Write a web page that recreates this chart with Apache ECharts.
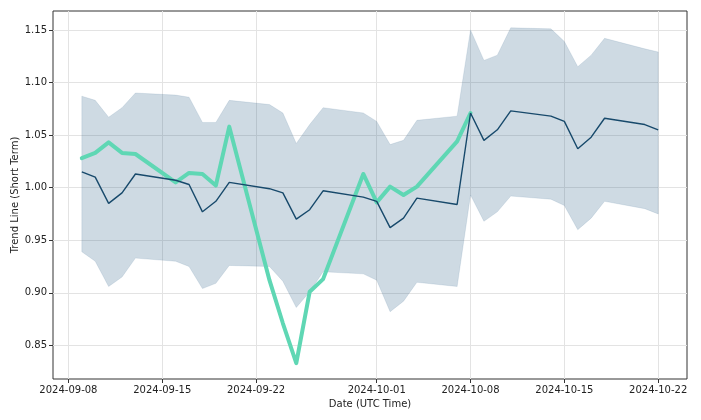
<!DOCTYPE html>
<html>
<head>
<meta charset="utf-8">
<script src="https://cdn.jsdelivr.net/npm/echarts@6/dist/echarts.min.js"></script>
<style>html,body{margin:0;padding:0;background:#fff;}#c{width:701px;height:420px;}</style>
</head>
<body>
<div id="c"></div>
<script>
const dates = ['2024-09-09','2024-09-10','2024-09-11','2024-09-12','2024-09-13',
  '2024-09-16','2024-09-17','2024-09-18','2024-09-19','2024-09-20',
  '2024-09-23','2024-09-24','2024-09-25','2024-09-26','2024-09-27',
  '2024-09-30','2024-10-01','2024-10-02','2024-10-03','2024-10-04',
  '2024-10-07','2024-10-08','2024-10-09','2024-10-10','2024-10-11',
  '2024-10-14','2024-10-15','2024-10-16','2024-10-17','2024-10-18',
  '2024-10-21','2024-10-22'];
const trend = [1.015,1.010,0.985,0.995,1.013,
  1.007,1.003,0.977,0.987,1.005,
  0.999,0.995,0.970,0.979,0.997,
  0.991,0.987,0.962,0.971,0.990,
  0.984,1.071,1.045,1.055,1.073,
  1.068,1.063,1.037,1.048,1.066,
  1.060,1.055];
const upper = [1.087,1.083,1.067,1.076,1.090,
  1.088,1.086,1.062,1.062,1.083,
  1.079,1.071,1.042,1.060,1.076,
  1.071,1.063,1.041,1.045,1.064,
  1.068,1.150,1.121,1.126,1.152,
  1.151,1.139,1.115,1.126,1.142,
  1.132,1.129];
const lower = [0.939,0.930,0.906,0.915,0.933,
  0.930,0.925,0.904,0.909,0.926,
  0.925,0.911,0.886,0.901,0.920,
  0.918,0.912,0.882,0.892,0.910,
  0.906,0.993,0.968,0.977,0.992,
  0.989,0.983,0.960,0.971,0.987,
  0.980,0.975];
const actualDates = dates.slice(0, 22);
const actual = [1.028,1.033,1.043,1.033,1.032,
  1.005,1.014,1.013,1.002,1.058,
  0.912,0.871,0.833,0.901,0.913,
  1.013,0.986,1.001,0.993,1.001,
  1.044,1.071];
const xTicks = ['2024-09-08','2024-09-15','2024-09-22','2024-10-01','2024-10-08','2024-10-15','2024-10-22'];
const yTicks = [0.85,0.90,0.95,1.00,1.05,1.10,1.15];

const t = s => new Date(s + 'T00:00:00Z').getTime();
const xFirst = t(dates[0]), xLast = t(dates[dates.length-1]);
const xPad = (xLast - xFirst) * 0.05;

const pairs = (ds, vs) => ds.map((d, i) => [t(d), vs[i]]);

const fmtDate = v => new Date(v).toISOString().slice(0, 10);
const textStyle = {fontFamily: 'DejaVu Sans', fontSize: 10, color: '#222'};

const chart = echarts.init(document.getElementById('c'), null, {renderer: 'canvas'});
chart.setOption({
  animation: false,
  backgroundColor: '#fff',
  grid: {left: 53, right: 14, top: 11, bottom: 41, outerBoundsMode: 'none', containLabel: false,
         show: true, borderColor: '#333', borderWidth: 1, backgroundColor: 'transparent'},
  xAxis: {
    type: 'value',
    min: xFirst - xPad,
    max: xLast + xPad,
    name: 'Date (UTC Time)',
    nameLocation: 'middle',
    nameGap: 20,
    nameMoveOverlap: false,
    nameTextStyle: textStyle,
    axisLine: {show: false},
    axisTick: {show: true, length: 4, lineStyle: {color: '#333'}, customValues: xTicks.map(t)},
    axisLabel: {customValues: xTicks.map(t), formatter: v => fmtDate(v), margin: 6, ...textStyle, showMinLabel: true, showMaxLabel: true},
    splitLine: {show: true, lineStyle: {color: '#e3e3e3', width: 1}}
  },
  yAxis: {
    type: 'value',
    min: 0.818,
    max: 1.168,
    name: 'Trend Line (Short Term)',
    nameLocation: 'middle',
    nameGap: 33,
    nameRotate: 90,
    nameMoveOverlap: false,
    nameTextStyle: textStyle,
    axisLine: {show: false},
    axisTick: {show: true, length: 4, lineStyle: {color: '#333'}, customValues: yTicks},
    axisLabel: {customValues: yTicks, formatter: v => v.toFixed(2), margin: 6, ...textStyle},
    splitLine: {show: true, lineStyle: {color: '#e3e3e3', width: 1}}
  },
  series: [
    {
      type: 'custom', name: 'band', silent: true, z: 1,
      data: [[xFirst, 1]],
      renderItem: (params, api) => {
        const pts = [];
        dates.forEach((d, i) => pts.push(api.coord([t(d), upper[i]])));
        for (let i = dates.length - 1; i >= 0; i--) pts.push(api.coord([t(dates[i]), lower[i]]));
        return {
          type: 'polygon',
          shape: {points: pts},
          style: {fill: 'rgba(52,101,138,0.24)', stroke: 'rgba(52,101,138,0.12)', lineWidth: 1}
        };
      }
    },
    {
      type: 'line', name: 'trend', symbol: 'none',
      data: pairs(dates, trend),
      lineStyle: {color: '#17496b', width: 1.4}, z: 3
    },
    {
      type: 'line', name: 'actual', symbol: 'none',
      data: pairs(actualDates, actual),
      lineStyle: {color: '#5fd7b4', width: 4, join: 'round', cap: 'round'}, z: 2
    }
  ]
});
</script>
</body>
</html>
